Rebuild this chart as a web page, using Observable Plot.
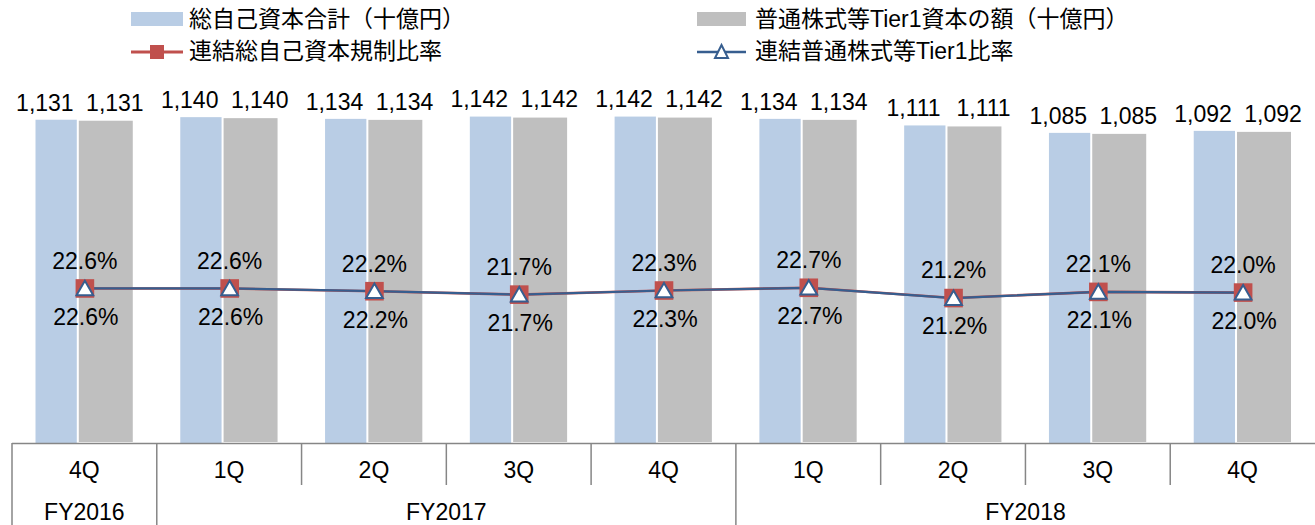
<!DOCTYPE html>
<html>
<head>
<meta charset="utf-8">
<script src="https://cdn.jsdelivr.net/npm/d3@7"></script>
<script src="https://cdn.jsdelivr.net/npm/@observablehq/plot@0.6"></script>
<style>
  html, body { margin: 0; padding: 0; background: #fff; }
  #wrap { position: relative; width: 1315px; height: 525px; overflow: hidden; }
  #legend { position: relative; width: 1315px; height: 75px; font-family: "Liberation Sans", Arial, "Noto Sans CJK JP", sans-serif; font-size: 23px; color: #000; }
  .lg { position: absolute; line-height: 24px; white-space: nowrap; }
  .sw { position: absolute; }
  #chart svg { display: block; }
</style>
</head>
<body>
<div id="wrap">
  <div id="legend"></div>
  <div id="chart"></div>
</div>
<script>
// ---- data ----
const quarters = ["4Q", "1Q", "2Q", "3Q", "4Q", "1Q", "2Q", "3Q", "4Q"];
const fiscalYears = ["FY2016", "FY2017", "FY2017", "FY2017", "FY2017", "FY2018", "FY2018", "FY2018", "FY2018"];
const totalCapital = [1131, 1140, 1134, 1142, 1142, 1134, 1111, 1085, 1092];
const cet1Capital = [1131, 1140, 1134, 1142, 1142, 1134, 1111, 1085, 1092];
const totalRatio = [22.6, 22.6, 22.2, 21.7, 22.3, 22.7, 21.2, 22.1, 22.0];
const cet1Ratio = [22.6, 22.6, 22.2, 21.7, 22.3, 22.7, 21.2, 22.1, 22.0];
const seriesNames = ["総自己資本合計（十億円）", "普通株式等Tier1資本の額（十億円）", "連結総自己資本規制比率", "連結普通株式等Tier1比率"];
const primaryDomain = [0, 1200];
const secondaryDomain = [0, 50];

// ---- colours ----
const cBlue = "#B9CDE5", cGray = "#BFBFBF", cRed = "#C0504D", cNavy = "#375E8F", cAxis = "#868686";

// ---- legend ----
const legend = document.getElementById("legend");
function add(html) { legend.insertAdjacentHTML("beforeend", html); }
add(`<div class="sw" style="left:131px;top:12px;width:52px;height:14px;background:${cBlue}"></div>`);
add(`<div class="lg" style="left:189px;top:7px">${seriesNames[0]}</div>`);
add(`<div class="sw" style="left:697px;top:12px;width:49px;height:14px;background:${cGray}"></div>`);
add(`<div class="lg" style="left:755px;top:7px">${seriesNames[1]}</div>`);
add(`<svg class="sw" style="left:131px;top:42px" width="54" height="20">
  <line x1="0" x2="52" y1="10" y2="10" stroke="${cRed}" stroke-width="3"/>
  <rect x="19" y="3" width="14" height="14" fill="${cRed}"/></svg>`);
add(`<div class="lg" style="left:189px;top:39px">${seriesNames[2]}</div>`);
add(`<svg class="sw" style="left:697px;top:42px" width="54" height="20">
  <line x1="0" x2="49" y1="10" y2="10" stroke="${cNavy}" stroke-width="2.5"/>
  <path d="M24.5,3 L31,16 L18,16 Z" fill="white" stroke="${cNavy}" stroke-width="2"/></svg>`);
add(`<div class="lg" style="left:755px;top:39px">${seriesNames[3]}</div>`);

// ---- chart ----
const keys = quarters.map((q, i) => `${fiscalYears[i]} ${q}`);
const rows = keys.map((k, i) => ({
  key: k, q: quarters[i], fy: fiscalYears[i],
  total: totalCapital[i], cet1: cet1Capital[i],
  tr: totalRatio[i], cr: cet1Ratio[i]
}));
// secondary (percent) axis mapped onto the primary axis range
const y2 = d3.scaleLinear().domain(secondaryDomain).range(primaryDomain);
const fmtNum = d3.format(",");
const fmtPct = (v) => v.toFixed(1) + "%";

const plot = Plot.plot({
  width: 1315,
  height: 450,
  marginTop: 25,
  marginBottom: 82,
  marginLeft: 12,
  marginRight: 0,
  x: { type: "band", domain: keys, padding: 0, round: false, axis: null },
  y: { domain: primaryDomain, axis: null },
  style: { fontFamily: "'Liberation Sans', Arial, sans-serif", fontSize: "23px", color: "#000", overflow: "visible", background: "#fff" },
  marks: [
    Plot.barY(rows, { x: "key", y: "total", fill: cBlue, insetLeft: 23.5, insetRight: 67 }),
    Plot.barY(rows, { x: "key", y: "cet1", fill: cGray, stroke: "white", strokeWidth: 2, insetLeft: 65.8, insetRight: 23 }),
    Plot.ruleY([0], { stroke: cAxis, strokeWidth: 1.5 }),
    Plot.line(rows, { x: "key", y: (d) => y2(d.tr), stroke: cRed, strokeWidth: 2.6 }),
    Plot.line(rows, { x: "key", y: (d) => y2(d.cr), stroke: cNavy, strokeWidth: 2.2 }),
    Plot.dot(rows, { x: "key", y: (d) => y2(d.tr), symbol: "square", r: 10.5, fill: cRed }),
    Plot.dot(rows, { x: "key", y: (d) => y2(d.cr), symbol: "triangle", r: 6.2, fill: "white", stroke: cNavy, strokeWidth: 2, dy: 2 }),
    Plot.text(rows, { x: "key", y: "total", text: (d) => fmtNum(d.total), fontSize: 23, dx: -40, dy: -17, fill: "#000" }),
    Plot.text(rows, { x: "key", y: "cet1", text: (d) => fmtNum(d.cet1), fontSize: 23, dx: 30, dy: -17, fill: "#000" }),
    Plot.text(rows, { x: "key", y: (d) => y2(d.tr), text: (d) => fmtPct(d.tr), fontSize: 23, dx: 0, dy: -27, fill: "#000" }),
    Plot.text(rows, { x: "key", y: (d) => y2(d.cr), text: (d) => fmtPct(d.cr), fontSize: 23, dx: 1, dy: 29, fill: "#000" })
  ]
});

document.getElementById("chart").appendChild(plot);

// ---- category table below the axis, drawn with the plot's own scales ----
const xs = plot.scale("x");
const ys = plot.scale("y");
const bw = xs.bandwidth;
const y0 = ys.apply(0);
const svg = d3.select(plot);
const g = svg.append("g").attr("font-family", "'Liberation Sans', Arial, sans-serif").attr("font-size", 23);
keys.forEach((k, i) => {
  const xl = xs.apply(k);
  const fyStart = i === 0 || fiscalYears[i] !== fiscalYears[i - 1];
  g.append("line").attr("x1", xl).attr("x2", xl).attr("y1", y0).attr("y2", y0 + (fyStart ? 82 : 42))
    .attr("stroke", cAxis).attr("stroke-width", 1.5);
  g.append("text").attr("x", xl + bw / 2).attr("y", y0 + 27).attr("text-anchor", "middle")
    .attr("dominant-baseline", "central").attr("fill", "#000").text(quarters[i]);
});
const groups = d3.groups(keys.map((k, i) => ({ k, fy: fiscalYears[i] })), (d) => d.fy);
groups.forEach(([fy, items]) => {
  const a = xs.apply(items[0].k);
  const b = xs.apply(items[items.length - 1].k) + bw;
  g.append("text").attr("x", (a + b) / 2).attr("y", y0 + 69).attr("text-anchor", "middle")
    .attr("dominant-baseline", "central").attr("fill", "#000").text(fy);
});
</script>
</body>
</html>
